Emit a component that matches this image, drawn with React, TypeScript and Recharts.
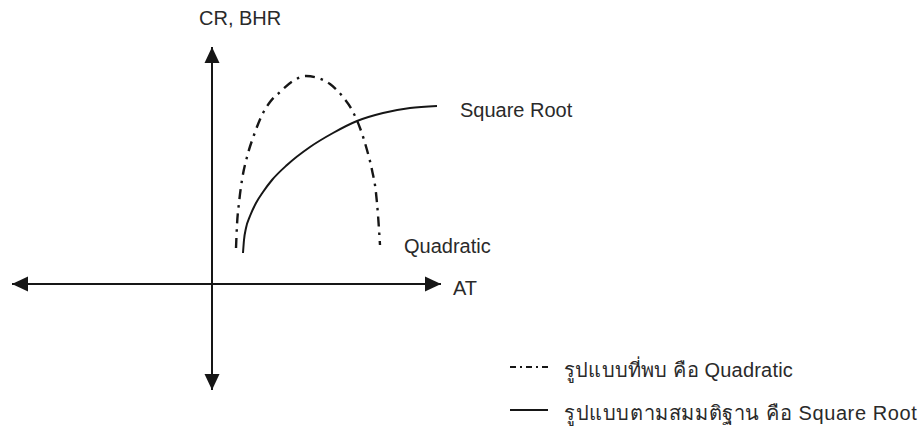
import { LineChart, Line, XAxis, YAxis, ReferenceLine, ReferenceDot } from "recharts";

// Quadratic (found pattern)
const quadX = [2.4, 2.5, 2.7, 3.0, 3.5, 4.2, 5.0, 5.8, 6.8, 8.1, 9.4, 10.6, 11.8, 13.1, 14.0, 14.8, 15.5, 16.0, 16.4, 16.6, 16.8];
const quadY = [3.6, 5.9, 8.1, 10.4, 12.7, 14.9, 16.9, 18.2, 19.2, 20.3, 20.8, 20.6, 20.0, 18.7, 17.4, 15.6, 13.4, 11.4, 9.1, 6.9, 3.9];

// Square root (hypothesis)
const rootX = [3.1, 3.2, 3.4, 3.8, 4.4, 5.1, 6.0, 7.5, 9.8, 12.1, 14.5, 17.1, 19.8, 22.5];
const rootY = [3.1, 4.4, 5.6, 6.8, 8.1, 9.2, 10.4, 11.9, 13.7, 15.1, 16.3, 17.1, 17.6, 17.8];

const xDomain: [number, number] = [-20, 22.9];
const yDomain: [number, number] = [-10.6, 23.7];

const legendRows = [
  { name: "รูปแบบที่พบ คือ Quadratic", dash: "6 4 2 4" },
  { name: "รูปแบบตามสมมติฐาน คือ Square Root", dash: undefined as string | undefined },
];

const ink = "#161616";
const textColor = "#2a2a2a";
const font = '"Liberation Sans", Arial, sans-serif';

const quadData = quadX.map((x, i) => ({ x, y: quadY[i] }));
const rootData = rootX.map((x, i) => ({ x, y: rootY[i] }));

const arrows = [
  { x: xDomain[1], y: 0, dir: "right" },
  { x: xDomain[0], y: 0, dir: "left" },
  { x: 0, y: yDomain[1], dir: "up" },
  { x: 0, y: yDomain[0], dir: "down" },
];

function arrowHead(dir: string) {
  return (props: any) => {
    const { cx, cy } = props;
    const L = 16;
    const w = 7.5;
    let pts = "";
    if (dir === "right") pts = `${cx},${cy} ${cx - L},${cy - w} ${cx - L},${cy + w}`;
    if (dir === "left") pts = `${cx},${cy} ${cx + L},${cy - w} ${cx + L},${cy + w}`;
    if (dir === "up") pts = `${cx},${cy} ${cx - w},${cy + L} ${cx + w},${cy + L}`;
    if (dir === "down") pts = `${cx},${cy} ${cx - w},${cy - L} ${cx + w},${cy - L}`;
    return <polygon points={pts} fill={ink} />;
  };
}

function LegendBox() {
  return (
    <div
      style={{
        position: "absolute",
        left: 508,
        top: 348,
        fontFamily: font,
        fontSize: 20,
        color: textColor,
      }}
    >
      {legendRows.map((r) => (
        <div key={r.name} style={{ display: "flex", alignItems: "center", height: 43 }}>
          <svg width={52} height={20} style={{ marginRight: 4 }}>
            <line x1={2} y1={7} x2={40} y2={7} stroke={ink} strokeWidth={2} strokeDasharray={r.dash} />
          </svg>
          <span style={{ letterSpacing: r.dash ? 0.2 : 0.6 }}>{r.name}</span>
        </div>
      ))}
    </div>
  );
}

export default function App() {
  return (
    <div style={{ position: "absolute", left: 0, top: 0, width: 922, height: 432, background: "#fff" }}>
      <LineChart width={922} height={432} margin={{ top: 47, right: 481, bottom: 42, left: 12 }}>
        <XAxis type="number" dataKey="x" domain={xDomain} hide allowDataOverflow />
        <YAxis type="number" dataKey="y" domain={yDomain} hide allowDataOverflow />
        <ReferenceLine x={0} stroke={ink} strokeWidth={2} />
        <ReferenceLine y={0} stroke={ink} strokeWidth={2} />
        {arrows.map((a) => (
          <ReferenceDot key={a.dir} x={a.x} y={a.y} r={0} shape={arrowHead(a.dir)} />
        ))}
        <Line
          data={quadData}
          dataKey="y"
          name={legendRows[0].name}
          type="monotone"
          stroke={ink}
          strokeWidth={2.4}
          strokeDasharray="10 6 2.5 6"
          dot={false}
          isAnimationActive={false}
        />
        <Line
          data={rootData}
          dataKey="y"
          name={legendRows[1].name}
          type="monotone"
          stroke={ink}
          strokeWidth={2}
          dot={false}
          isAnimationActive={false}
        />
      </LineChart>
      <LegendBox />
      <svg
        width={922}
        height={432}
        style={{ position: "absolute", left: 0, top: 0, pointerEvents: "none" }}
        fontFamily={font}
        fontSize={20}
        fill={textColor}
      >
        <text x={199} y={25}>CR, BHR</text>
        <text x={460} y={116.5}>Square Root</text>
        <text x={404} y={253}>Quadratic</text>
        <text x={453} y={295}>AT</text>
      </svg>
    </div>
  );
}
